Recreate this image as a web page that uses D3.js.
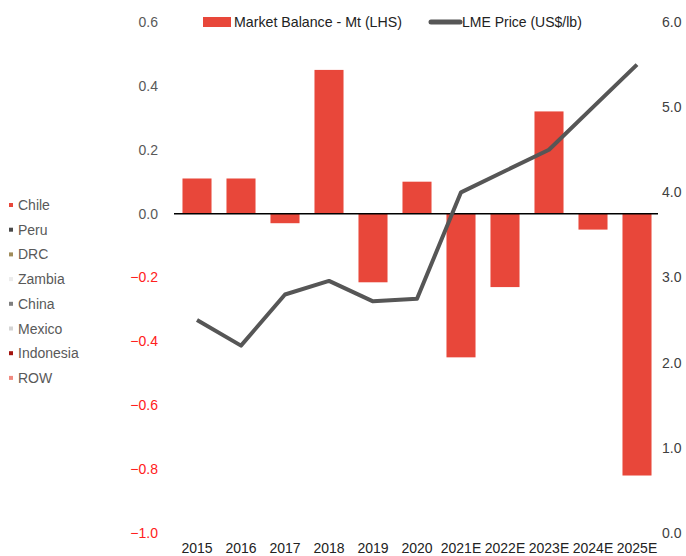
<!DOCTYPE html>
<html>
<head>
<meta charset="utf-8">
<script src="https://cdn.jsdelivr.net/npm/d3@7"></script>
<style>
  body { margin: 0; background: #fff; }
  svg { font-family: "Liberation Sans", Arial, sans-serif; }
</style>
</head>
<body>
<svg id="chart" width="686" height="556"></svg>
<script>
// data
var years = ["2015", "2016", "2017", "2018", "2019", "2020", "2021E", "2022E", "2023E", "2024E", "2025E"];
var balance = [0.11, 0.11, -0.03, 0.45, -0.215, 0.10, -0.45, -0.23, 0.32, -0.05, -0.82];
var price = [2.5, 2.2, 2.8, 2.96, 2.72, 2.75, 4.0, 4.25, 4.5, 5.0, 5.5];
var leftTicks = [0.6, 0.4, 0.2, 0.0, -0.2, -0.4, -0.6, -0.8, -1.0];
var rightTicks = [6, 5, 4, 3, 2, 1, 0];
var countries = ["Chile", "Peru", "DRC", "Zambia", "China", "Mexico", "Indonesia", "ROW"];
var countryColors = ["#e8473a", "#4a4a4a", "#a08c5a", "#ececec", "#7f7f7f", "#d4d4d4", "#a3140f", "#f08a80"];

var svg = d3.select("#chart");

var x = d3.scaleBand().domain(years).range([175, 659]).paddingInner(0.34).paddingOuter(0.17);
var yL = d3.scaleLinear().domain([-1.0, 0.6]).range([533, 22]);
var yR = d3.scaleLinear().domain([0, 6]).range([533, 22]);

// bars
svg.selectAll("rect.bar")
  .data(years)
  .enter()
  .append("rect")
  .attr("class", "bar")
  .attr("x", function(d) { return x(d); })
  .attr("width", x.bandwidth())
  .attr("y", function(d, i) { return yL(Math.max(0, balance[i])); })
  .attr("height", function(d, i) { return Math.abs(yL(balance[i]) - yL(0)); })
  .attr("fill", "#e8473a");

// zero line
svg.append("line")
  .attr("x1", 174).attr("x2", 658)
  .attr("y1", yL(0)).attr("y2", yL(0))
  .attr("stroke", "#000").attr("stroke-width", 1.5);

// price line
var line = d3.line()
  .x(function(d, i) { return x(years[i]) + x.bandwidth() / 2; })
  .y(function(d) { return yR(d); });

svg.append("path")
  .datum(price)
  .attr("d", line)
  .attr("fill", "none")
  .attr("stroke", "#565656")
  .attr("stroke-width", 4)
  .attr("stroke-linejoin", "round");

// left axis
var leftAxis = svg.append("g")
  .attr("transform", "translate(158,0)")
  .call(d3.axisLeft(yL).tickValues(leftTicks).tickSize(0).tickPadding(0).tickFormat(d3.format(".1f")));
leftAxis.select(".domain").remove();
leftAxis.selectAll("text")
  .attr("font-size", 14)
  .attr("fill", function(d) { return d < 0 ? "#ff2020" : "#595959"; });

// right axis
var rightAxis = svg.append("g")
  .attr("transform", "translate(662,0)")
  .call(d3.axisRight(yR).tickValues(rightTicks).tickSize(0).tickPadding(0).tickFormat(d3.format(".1f")));
rightAxis.select(".domain").remove();
rightAxis.selectAll("text").attr("font-size", 14).attr("fill", "#404040");

// x axis
var xAxis = svg.append("g")
  .attr("transform", "translate(0,543)")
  .call(d3.axisBottom(x).tickSize(0).tickPadding(0));
xAxis.select(".domain").remove();
xAxis.selectAll("text").attr("font-size", 14).attr("fill", "#222");

// top legend
svg.append("rect")
  .attr("x", 203).attr("y", 17).attr("width", 28).attr("height", 10)
  .attr("fill", "#e8473a");
svg.append("text")
  .attr("x", 234).attr("y", 27)
  .attr("font-size", 14.2).attr("fill", "#222")
  .text("Market Balance - Mt (LHS)");
svg.append("line")
  .attr("x1", 431).attr("x2", 460).attr("y1", 22).attr("y2", 22)
  .attr("stroke", "#565656").attr("stroke-width", 5).attr("stroke-linecap", "round");
svg.append("text")
  .attr("x", 462).attr("y", 27)
  .attr("font-size", 14).attr("fill", "#222")
  .text("LME Price (US$/lb)");

// country legend
var legend = svg.selectAll("g.country")
  .data(countries)
  .enter()
  .append("g")
  .attr("class", "country")
  .attr("transform", function(d, i) { return "translate(0," + (205 + i * 24.7) + ")"; });

legend.append("rect")
  .attr("x", 9).attr("y", -2).attr("width", 4).attr("height", 4)
  .attr("fill", function(d, i) { return countryColors[i]; });
legend.append("text")
  .attr("x", 18).attr("y", 5)
  .attr("font-size", 14).attr("fill", "#595959")
  .text(function(d) { return d; });
</script>
</body>
</html>
